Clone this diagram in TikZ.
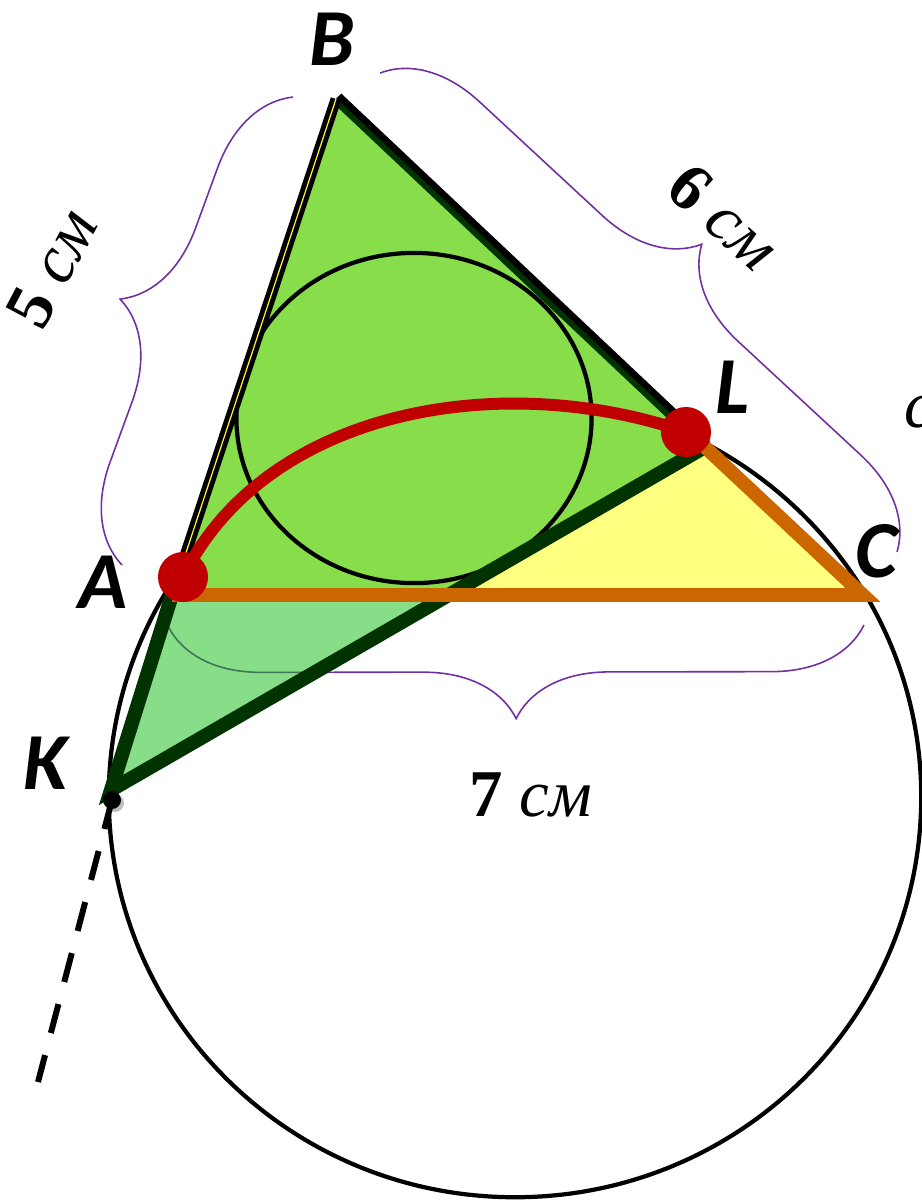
\documentclass[tikz,border=0pt]{standalone}
\usepackage{fontspec}
\setmainfont{Liberation Serif}
\newfontfamily\ptfont{Carlito}
\usetikzlibrary{calc,decorations.pathreplacing}

\definecolor{leafgreen}{RGB}{136,221,75}
\definecolor{palegreen}{RGB}{17,187,17}
\definecolor{lemon}{RGB}{255,255,128}
\definecolor{rust}{RGB}{204,102,0}
\definecolor{pine}{RGB}{0,51,0}
\definecolor{crimson}{RGB}{192,0,0}
\definecolor{bracecol}{RGB}{112,48,160}

\tikzset{
  vertex/.style={font=\ptfont\fontsize{23}{23}\selectfont\bfseries\itshape},
  sidelabel/.style={font=\fontsize{19}{19}\selectfont},
  bracket/.style={bracecol, line width=0.45pt, decorate,
    decoration={brace, amplitude=0.93cm}},
}

\begin{document}
\begin{tikzpicture}[x=0.01cm, y=-0.01cm]
            \useasboundingbox (0,0) rectangle (922,1202);

            % Points
            \coordinate (A) at (172,595);
            \coordinate (B) at (336,99);
            \coordinate (C) at (863,595);
            \coordinate (L) at (705,447);
            \coordinate (K) at (111,790);
            \coordinate (X) at (intersection of K--L and A--C);
            \coordinate (I) at (414,418);
            \coordinate (O) at (515,797);
            \coordinate (Kd) at (112,800);
            \coordinate (E) at (38,1082);
            \coordinate (Ra) at (183,577);
            \coordinate (Rl) at (686,432);

            % Big circle
            \draw[line width=1.2pt] (O) ellipse [x radius=4.06cm, y radius=4cm];

            % Fills
            \fill[leafgreen] (A) -- (B) -- (L) -- (X) -- cycle;
            \fill[lemon] (X) -- (L) -- (C) -- cycle;

            % Braces
            \draw[bracket] ($(C)+(1,30)$) -- ($(A)+(-4,31)$);
            \draw[bracket] ($(A)+(-50,-30)$) -- ($(B)+(-43,-2)$);
            \draw[bracket] ($(B)+(44,-26)$) -- ($(C)+(34,-43)$);

            \fill[palegreen, opacity=0.5] (A) -- (K) -- (X) -- cycle;

            % Incircle
            \draw[line width=1.2pt] (I) ellipse [x radius=1.775cm, y radius=1.65cm];

            % Sides
            \draw[pine, line width=2.8pt] (B) -- (L);
            \draw[line width=1.9pt] ($(B)+(3,-3)$) -- ($(L)+(3,-3)$);
            \draw[line width=3.1pt] (A) -- (B);
            \draw[yellow!80, line width=0.35pt] (A) -- (B);
            \draw[pine, line width=4pt, line join=miter] (A) -- (K) -- (L);
            \draw[rust, line width=3.9pt, line join=miter] (L) -- (C) -- (A);

            % Arc and points
            \draw[crimson, line width=3.4pt] (Ra) .. controls (265,410) and (500,368) .. (Rl);
            \fill[crimson] (Ra) circle [radius=0.25cm];
            \fill[crimson] (Rl) circle [radius=0.25cm];
            \fill[black!25] ($(Kd)+(3,3)$) circle [radius=0.09cm];
            \fill (Kd) circle [radius=0.09cm];
            \draw[line width=1.7pt, dash pattern=on 8.5pt off 6.5pt] (Kd) -- (E);

            % Labels
            \node[vertex] (lB) at (332,39) {B};
            \node[vertex] (lA) at (103,582) {A};
            \node[vertex] (lK) at (46,763) {K};
            \node[vertex] (lL) at (733,387) {L};
            \node[vertex] (lC) at (876,551) {C};
            \node[sidelabel, rotate=62] (sAB) at (52,268) {\textbf{5} \textit{см}};
            \node[sidelabel, rotate=-42] (sBC) at (724,217) {\textbf{6} \textit{см}};
            \node[sidelabel] (sAC) at (531,795) {\textbf{7} \textit{см}};
            \node[sidelabel, anchor=west, inner sep=0pt] (sLC) at (904,412) {\textit{с}};
\end{tikzpicture}
\end{document}
